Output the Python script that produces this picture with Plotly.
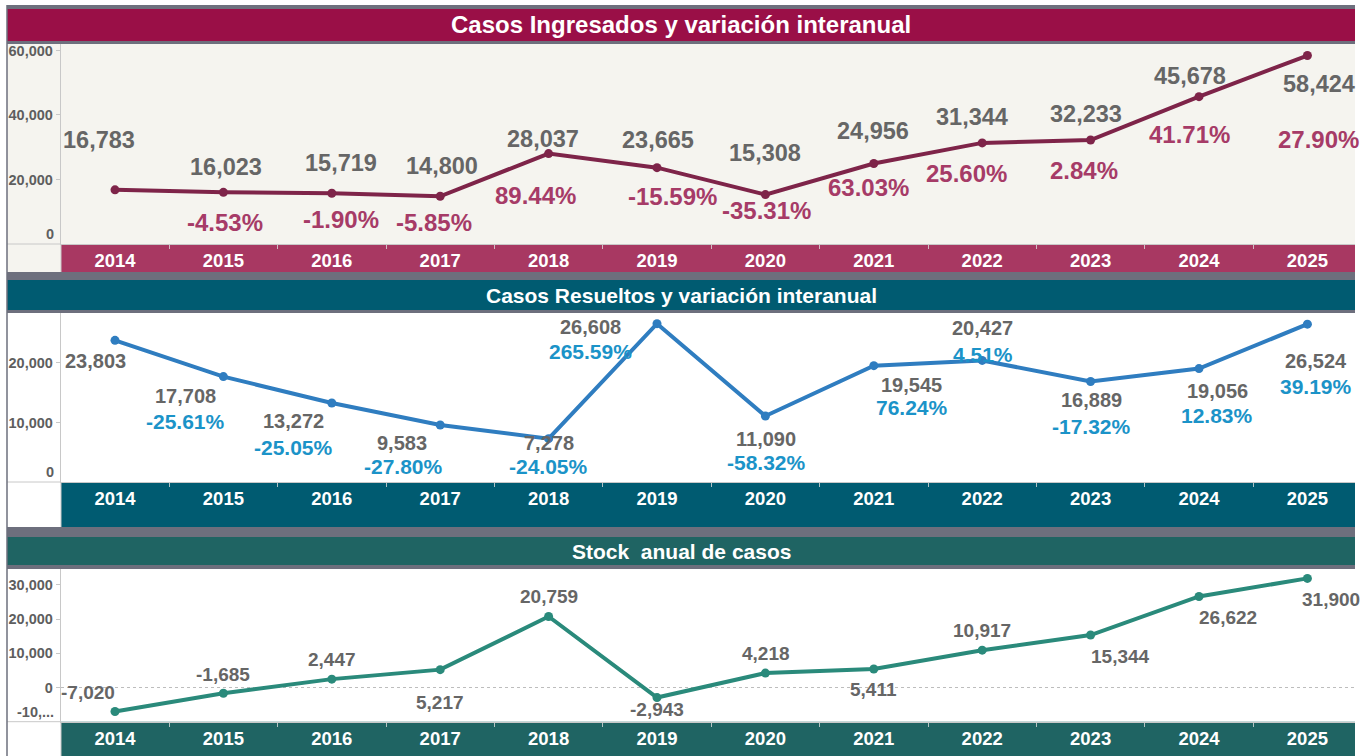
import plotly.graph_objects as go

# ---------------- data ----------------
years = ["2014", "2015", "2016", "2017", "2018", "2019", "2020", "2021", "2022", "2023", "2024", "2025"]
ingresados = [16783, 16023, 15719, 14800, 28037, 23665, 15308, 24956, 31344, 32233, 45678, 58424]
ingresados_var = [None, -4.53, -1.90, -5.85, 89.44, -15.59, -35.31, 63.03, 25.60, 2.84, 41.71, 27.90]
resueltos = [23803, 17708, 13272, 9583, 7278, 26608, 11090, 19545, 20427, 16889, 19056, 26524]
resueltos_var = [None, -25.61, -25.05, -27.80, -24.05, 265.59, -58.32, 76.24, 4.51, -17.32, 12.83, 39.19]
stock = [-7020, -1685, 2447, 5217, 20759, -2943, 4218, 5411, 10917, 15344, 26622, 31900]

y1_ticks = [20000, 40000, 60000]
y2_ticks = [10000, 20000]
y3_ticks = [0, 10000, 20000, 30000]

titles = ["Casos Ingresados y variación interanual",
          "Casos Resueltos y variación interanual",
          "Stock\u00a0 anual de casos"]

# ---------------- label placement (pixel offsets, screen coords: +dy = down) ----------------
ing_val_off = [(-16, -50), (3, -25), (9, -30), (2, -30), (-6, -15), (1, -28), (0, -42),
               (-1, -32), (-10, -26), (-5, -26), (-9, -21), (12, 28)]
ing_pct_off = [None, (2, 30), (9, 26), (-6, 26), (-13, 42), (15, 29), (1, 16),
               (-5, 24), (-16, 31), (-7, 30), (-10, 38), (11, 84)]
res_val_off = [(-20, 21), (-38, 19), (-38, 18), (-38, 18), (0, 4), (-67, 3), (1, 23),
               (38, 19), (0, -32), (1, 19), (18, 22), (9, 37)]
res_pct_off = [None, (-38, 45), (-38, 44), (-37, 42), (0, 28), (-67, 28), (1, 46),
               (38, 42), (1, -6), (1, 45), (18, 47), (9, 62)]
stk_val_off = [(-27, -19), (0, -19), (0, -20), (0, 33), (0, -20), (0, 12), (1, -20),
               (0, 20), (0, -20), (30, 21), (29, 21), (24, 21)]

W, H = 1369, 756
def X(px):
    return px / W
def Y(py):
    return 1 - py / H

FONT = "Liberation Sans, Arial, sans-serif"
GRAY_FRAME = "#6D6F7D"
MAROON = "#9A0F47"
MAROON_BAND = "#A83862"
TEAL = "#005B71"
GREEN = "#1F6463"
BEIGE = "#F5F4EF"
LINE1 = "#7E2449"
LINE2 = "#2F7DC0"
LINE3 = "#2A8A7B"
VAL_GRAY = "#666666"
PCT1 = "#A63B67"
PCT2 = "#1B93C8"
AXIS_LIGHT = "#C8C8C8"
TICK_GRAY = "#5E5E5E"

fig = go.Figure()

fig.add_trace(go.Scatter(x=years, y=ingresados, mode="lines+markers", xaxis="x", yaxis="y",
                         line=dict(color=LINE1, width=4), marker=dict(color=LINE1, size=9),
                         hoverinfo="x+y", cliponaxis=False))
fig.add_trace(go.Scatter(x=years, y=resueltos, mode="lines+markers", xaxis="x2", yaxis="y2",
                         line=dict(color=LINE2, width=4), marker=dict(color=LINE2, size=9),
                         hoverinfo="x+y", cliponaxis=False))
fig.add_trace(go.Scatter(x=years, y=stock, mode="lines+markers", xaxis="x3", yaxis="y3",
                         line=dict(color=LINE3, width=4), marker=dict(color=LINE3, size=9),
                         hoverinfo="x+y", cliponaxis=False))

xdom = [X(60.8), X(1361.6)]
xaxis_common = dict(type="category", categoryorder="array", categoryarray=years,
                    range=[-0.5, len(years) - 0.5], autorange=False,
                    domain=xdom, tickson="boundaries", ticks="outside", ticklen=4,
                    tickcolor="rgba(220,220,220,0.8)", showgrid=False, zeroline=False,
                    showline=True, linecolor=AXIS_LIGHT, linewidth=1, tickangle=0,
                    tickfont=dict(family=FONT, size=18.5, color="white", weight="bold"),
                    fixedrange=True)
yaxis_common = dict(showgrid=False, zeroline=False, showline=True, linecolor=AXIS_LIGHT, linewidth=1,
                    ticks="outside", ticklen=4, tickcolor=AXIS_LIGHT, autorange=False,
                    tickfont=dict(family=FONT, size=14.5, color=TICK_GRAY, weight="bold"),
                    fixedrange=True)

fig.update_layout(
    width=W, height=H, autosize=False,
    margin=dict(l=0, r=0, t=0, b=0),
    paper_bgcolor="white", plot_bgcolor="rgba(0,0,0,0)",
    showlegend=False,
    xaxis=dict(xaxis_common, anchor="y"),
    xaxis2=dict(xaxis_common, anchor="y2"),
    xaxis3=dict(xaxis_common, anchor="y3"),
    yaxis=dict(yaxis_common, domain=[Y(244), Y(44)], range=[0, 62000], anchor="x",
               tickvals=y1_ticks, ticktext=[f"{v:,}" for v in y1_ticks]),
    yaxis2=dict(yaxis_common, domain=[Y(482), Y(313)], range=[0, 28400], anchor="x2",
                tickvals=y2_ticks, ticktext=[f"{v:,}" for v in y2_ticks]),
    yaxis3=dict(yaxis_common, domain=[Y(721.7), Y(569)], range=[-10000, 34650], anchor="x3",
                tickvals=y3_ticks, ticktext=[f"{v:,}" for v in y3_ticks]),
)

shapes = []
def rect(x0, y0, x1, y1, color, layer="below"):
    shapes.append(dict(type="rect", xref="paper", yref="paper", x0=X(x0), x1=X(x1), y0=Y(y1), y1=Y(y0),
                       fillcolor=color, line=dict(width=0), layer=layer))
def hline(x0, x1, y, color, width=1, dash="solid", layer="below"):
    shapes.append(dict(type="line", xref="paper", yref="paper", x0=X(x0), x1=X(x1), y0=Y(y), y1=Y(y),
                       line=dict(color=color, width=width, dash=dash), layer=layer))
def vline(x, y0, y1, color, width=1, layer="below"):
    shapes.append(dict(type="line", xref="paper", yref="paper", x0=X(x), x1=X(x), y0=Y(y0), y1=Y(y1),
                       line=dict(color=color, width=width), layer=layer))

L, R = 7, 1355
# panel 1
rect(L, 5, R, 9, GRAY_FRAME)
rect(L, 9, R, 41, MAROON)
rect(L, 41, R, 44, GRAY_FRAME)
rect(L, 44, R, 272, BEIGE)
rect(61, 244, R, 272, MAROON_BAND)
rect(L, 272, R, 280, GRAY_FRAME)
# panel 2
rect(L, 280, R, 310, TEAL)
rect(L, 310, R, 313, GRAY_FRAME)
rect(61, 482, R, 527, TEAL)
rect(L, 527, R, 537, GRAY_FRAME)
# panel 3
rect(L, 537, R, 565, GREEN)
rect(L, 565, R, 569, GRAY_FRAME)
rect(61, 721.7, R, 756, GREEN)
# light axis lines in the left margin
hline(L, 61, 244, AXIS_LIGHT)
hline(L, 61, 482, AXIS_LIGHT)
hline(L, 61, 721.7, AXIS_LIGHT)
vline(61, 244, 272, AXIS_LIGHT)
vline(61, 482, 527, AXIS_LIGHT)
vline(61, 721.7, 756, AXIS_LIGHT)
# zero line in stock panel
shapes.append(dict(type="line", xref="paper", yref="y3", x0=X(61), x1=X(R), y0=0, y1=0,
                   line=dict(color="#BDBDBD", width=1, dash="dot"), layer="below"))
# left frame line
vline(L, 5, 756, GRAY_FRAME, width=1.5, layer="above")
# white mask beyond the dashboard right edge
rect(R, 0, W, H, "white", layer="above")
fig.update_layout(shapes=shapes)

ann = []
# panel titles
for text, yc, size in zip(titles, [25, 295, 551], [24, 21, 21]):
    ann.append(dict(text=f"<b>{text}</b>", xref="paper", yref="paper", x=X((L + R) / 2), y=Y(yc),
                    xanchor="center", yanchor="middle", showarrow=False,
                    font=dict(family=FONT, size=size, color="white")))

def label(text, idx, yval, axis, off, size, color):
    dx, dy = off
    ann.append(dict(text=f"<b>{text}</b>", xref=f"x{axis}" if axis > 1 else "x",
                    yref=f"y{axis}" if axis > 1 else "y", x=idx, y=yval,
                    xshift=dx, yshift=-dy, xanchor="center", yanchor="middle", showarrow=False,
                    font=dict(family=FONT, size=size, color=color)))

for i, yr in enumerate(years):
    label(f"{ingresados[i]:,}", i, ingresados[i], 1, ing_val_off[i], 23.5, VAL_GRAY)
    if ingresados_var[i] is not None:
        label(f"{ingresados_var[i]:.2f}%", i, ingresados[i], 1, ing_pct_off[i], 24, PCT1)
    label(f"{resueltos[i]:,}", i, resueltos[i], 2, res_val_off[i], 20, VAL_GRAY)
    if resueltos_var[i] is not None:
        label(f"{resueltos_var[i]:.2f}%", i, resueltos[i], 2, res_pct_off[i], 21, PCT2)
    label(f"{stock[i]:,}", i, stock[i], 3, stk_val_off[i], 19, VAL_GRAY)

# axis-edge tick labels shifted inside (as the original dashboard does)
for yref, val, txt in [("y", 0, "0"), ("y2", 0, "0"), ("y3", -10000, "-10,...")]:
    ann.append(dict(text=f"<b>{txt}</b>", xref="paper", yref=yref, x=X(56), y=val, yshift=10,
                    xanchor="right", yanchor="middle", showarrow=False,
                    font=dict(family=FONT, size=14.5, color=TICK_GRAY)))

fig.update_layout(annotations=ann)

fig.write_html("out.html", config={"displayModeBar": False},
               post_script="document.body.style.margin='0';document.body.style.overflow='hidden';")
